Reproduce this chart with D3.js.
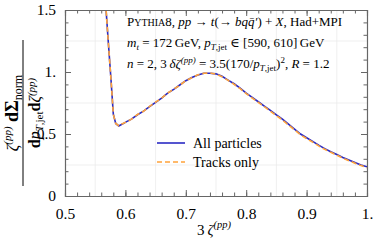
<!DOCTYPE html>
<html>
<head>
<meta charset="utf-8">
<script src="https://cdn.jsdelivr.net/npm/d3@7"></script>
<style>
  body { margin: 0; background: #fff; }
  text { font-family: "Liberation Serif", "DejaVu Serif", serif; fill: #000; }
</style>
</head>
<body>
<div id="hook-chart"></div>
<script>
'use strict';

// 3 zeta^(pp) values
var zeta = [0.563, 0.568, 0.572, 0.576, 0.580, 0.584, 0.589, 0.595, 0.602, 0.61, 0.62, 0.63, 0.64,
  0.65, 0.66, 0.67, 0.68, 0.69, 0.70, 0.71, 0.72, 0.73, 0.74, 0.75, 0.76, 0.77, 0.78, 0.79, 0.80,
  0.81, 0.82, 0.83, 0.84, 0.85, 0.86, 0.87, 0.88, 0.89, 0.90, 0.91, 0.92, 0.93, 0.94, 0.95, 0.96,
  0.97, 0.98, 0.99, 1.0];

var allParticles = [1.75, 1.50, 1.22, 0.95, 0.66, 0.585, 0.565, 0.58, 0.60, 0.62, 0.655, 0.685, 0.72,
  0.755, 0.79, 0.83, 0.86, 0.895, 0.93, 0.955, 0.975, 0.99, 0.99, 0.985, 0.965, 0.935, 0.905, 0.87, 0.83,
  0.795, 0.76, 0.725, 0.69, 0.655, 0.62, 0.58, 0.54, 0.50, 0.47, 0.44, 0.41, 0.382, 0.357, 0.335, 0.31,
  0.29, 0.27, 0.25, 0.235];

var tracksOnly = [1.75, 1.50, 1.22, 0.95, 0.66, 0.585, 0.567, 0.582, 0.598, 0.62, 0.657, 0.683, 0.722,
  0.757, 0.79, 0.83, 0.862, 0.893, 0.93, 0.953, 0.977, 0.99, 0.992, 0.982, 0.962, 0.933, 0.9, 0.866, 0.826,
  0.79, 0.755, 0.72, 0.684, 0.648, 0.613, 0.573, 0.533, 0.493, 0.463, 0.434, 0.404, 0.376, 0.352, 0.33, 0.305,
  0.285, 0.265, 0.245, 0.228];

var xTicks = [0.5, 0.6, 0.7, 0.8, 0.9, 1.0];
var xTickLabels = ['0.5', '0.6', '0.7', '0.8', '0.9', '1.'];
var yTicks = [0, 0.5, 1.0, 1.5];
var yTickLabels = ['0', '0.5', '1.', '1.5'];
var xGrid = [0.55, 0.65, 0.75, 0.85, 0.95];
var yGrid = [0.25, 0.75, 1.25];

(function() {

var W = 374, H = 242;
var mLeft = 65, mRight = 367, mTop = 10, mBottom = 196;

var svg = d3.select('#hook-chart')
  .append('svg')
  .attr('width', W)
  .attr('height', H);

var x = d3.scaleLinear().domain([0.5, 1.0]).range([mLeft, mRight]);
var y = d3.scaleLinear().domain([0, 1.5]).range([mBottom, mTop]);

// grid
svg.append('g').selectAll('line').data(xGrid).enter().append('line')
  .attr('x1', function(d) { return x(d); }).attr('x2', function(d) { return x(d); })
  .attr('y1', mTop).attr('y2', mBottom)
  .style('stroke', '#ebebeb').style('stroke-width', 0.8);
svg.append('g').selectAll('line').data(yGrid).enter().append('line')
  .attr('y1', function(d) { return y(d); }).attr('y2', function(d) { return y(d); })
  .attr('x1', mLeft).attr('x2', mRight)
  .style('stroke', '#ebebeb').style('stroke-width', 0.8);

// curves
svg.append('clipPath').attr('id', 'clip')
  .append('rect').attr('x', mLeft).attr('y', mTop).attr('width', mRight - mLeft).attr('height', mBottom - mTop);

var line = d3.line()
  .x(function(d) { return x(d[0]); })
  .y(function(d) { return y(d[1]); });

svg.append('path')
  .datum(d3.zip(zeta, allParticles))
  .attr('d', line)
  .attr('clip-path', 'url(#clip)')
  .style('fill', 'none').style('stroke', '#2b2bc4').style('stroke-width', 1.6);

svg.append('path')
  .datum(d3.zip(zeta, tracksOnly))
  .attr('d', line)
  .attr('clip-path', 'url(#clip)')
  .style('fill', 'none').style('stroke', '#ffa33a').style('stroke-width', 1.6)
  .style('stroke-dasharray', '5,3');

// axes, ticks inward on all four sides
var fmtX = function(d) { return xTickLabels[xTicks.indexOf(d)]; };
var fmtY = function(d) { return yTickLabels[yTicks.indexOf(d)]; };
var xMinor = d3.range(0.5, 1.0001, 0.02).map(function(d) { return +d.toFixed(2); });
var yMinor = d3.range(0, 1.5001, 0.1).map(function(d) { return +d.toFixed(1); });

function styleAxis(g) {
  g.selectAll('path').style('stroke', '#666').style('stroke-width', 1.1);
  g.selectAll('line').style('stroke', '#666').style('stroke-width', 1);
  g.selectAll('text').style('font-family', '"Liberation Serif", serif').style('font-size', '15.5px').style('fill', '#000');
}

svg.append('g').attr('transform', 'translate(0,' + mBottom + ')')
  .call(d3.axisBottom(x).tickValues(xMinor).tickSize(-3.5).tickFormat(''))
  .call(styleAxis);
svg.append('g').attr('transform', 'translate(0,' + mBottom + ')')
  .call(d3.axisBottom(x).tickValues(xTicks).tickSize(-6).tickPadding(12).tickFormat(fmtX))
  .call(styleAxis);
svg.append('g').attr('transform', 'translate(0,' + mTop + ')')
  .call(d3.axisTop(x).tickValues(xMinor).tickSize(-3.5).tickFormat(''))
  .call(styleAxis);
svg.append('g').attr('transform', 'translate(0,' + mTop + ')')
  .call(d3.axisTop(x).tickValues(xTicks).tickSize(-6).tickFormat(''))
  .call(styleAxis);
svg.append('g').attr('transform', 'translate(' + mLeft + ',0)')
  .call(d3.axisLeft(y).tickValues(yMinor).tickSize(-3.5).tickFormat(''))
  .call(styleAxis);
svg.append('g').attr('transform', 'translate(' + mLeft + ',0)')
  .call(d3.axisLeft(y).tickValues(yTicks).tickSize(-6).tickPadding(9).tickFormat(fmtY))
  .call(styleAxis);
svg.append('g').attr('transform', 'translate(' + mRight + ',0)')
  .call(d3.axisRight(y).tickValues(yMinor).tickSize(-3.5).tickFormat(''))
  .call(styleAxis);
svg.append('g').attr('transform', 'translate(' + mRight + ',0)')
  .call(d3.axisRight(y).tickValues(yTicks).tickSize(-6).tickFormat(''))
  .call(styleAxis);

// annotation
var ann = svg.append('g').style('font-size', '13px');
var t1 = ann.append('text').attr('x', 127).attr('y', 26);
t1.append('tspan').text('P');
t1.append('tspan').style('font-size', '10px').text('YTHIA');
t1.append('tspan').text('8, ');
t1.append('tspan').style('font-style', 'italic').text('pp');
t1.append('tspan').text(' \u2192 ');
t1.append('tspan').style('font-style', 'italic').text('t');
t1.append('tspan').text('(\u2192 ');
t1.append('tspan').style('font-style', 'italic').text('bq\u0071\u0304\u2032');
t1.append('tspan').text(') + ');
t1.append('tspan').style('font-style', 'italic').text('X');
t1.append('tspan').text(', Had+MPI');

var t2 = ann.append('text').attr('x', 127).attr('y', 47);
t2.append('tspan').style('font-style', 'italic').text('m');
t2.append('tspan').style('font-style', 'italic').style('font-size', '9px').attr('dy', 3).text('t');
t2.append('tspan').attr('dy', -3).text(' = 172\u2009GeV, ');
t2.append('tspan').style('font-style', 'italic').text('p');
t2.append('tspan').style('font-size', '9px').attr('dy', 3).html('<tspan style="font-style:italic">T</tspan>,jet');
t2.append('tspan').attr('dy', -3).text(' \u2208 [590, 610]\u2009GeV');

var t3 = ann.append('text').attr('x', 127).attr('y', 68);
t3.append('tspan').style('font-style', 'italic').text('n');
t3.append('tspan').text(' = 2, 3\u2009');
t3.append('tspan').style('font-style', 'italic').text('\u03b4\u03b6');
t3.append('tspan').style('font-style', 'italic').style('font-size', '9px').attr('dy', -5).text('(pp)');
t3.append('tspan').attr('dy', 5).text(' = 3.5(170/');
t3.append('tspan').style('font-style', 'italic').text('p');
t3.append('tspan').style('font-size', '9px').attr('dy', 3).html('<tspan style="font-style:italic">T</tspan>,jet');
t3.append('tspan').attr('dy', -3).text(')');
t3.append('tspan').style('font-size', '9px').attr('dy', -5).text('2');
t3.append('tspan').attr('dy', 5).text(', ');
t3.append('tspan').style('font-style', 'italic').text('R');
t3.append('tspan').text(' = 1.2');

// legend
var legend = [
  { label: 'All particles', color: '#2b2bc4', dash: null },
  { label: 'Tracks only', color: '#ffa33a', dash: '5,3' }
];
var lg = svg.append('g').selectAll('g').data(legend).enter().append('g')
  .attr('transform', function(d, i) { return 'translate(157,' + (143 + i * 19) + ')'; });
lg.append('line').attr('x1', 0).attr('x2', 28).attr('y1', 0).attr('y2', 0)
  .style('stroke', function(d) { return d.color; })
  .style('stroke-width', 1.6)
  .style('stroke-dasharray', function(d) { return d.dash; });
lg.append('text').attr('x', 36).attr('y', 5).style('font-size', '14px')
  .text(function(d) { return d.label; });

// x label
var xl = svg.append('text').attr('x', 197).attr('y', 235).style('font-size', '15px');
xl.append('tspan').text('3\u2009');
xl.append('tspan').style('font-style', 'italic').text('\u03b6');
xl.append('tspan').style('font-style', 'italic').style('font-size', '10.5px').attr('dy', -7).text('(pp)');

// y label, a rotated fraction
var yl = svg.append('g').attr('transform', 'translate(23,113) rotate(-90)');
yl.append('line').attr('x1', -73).attr('x2', 73).attr('y1', 0).attr('y2', 0)
  .style('stroke', '#000').style('stroke-width', 1);
var num = yl.append('text').attr('x', 0).attr('y', -5).attr('text-anchor', 'middle').style('font-size', '16px');
num.append('tspan').style('font-style', 'italic').text('\u03b6');
num.append('tspan').style('font-style', 'italic').style('font-size', '11px').attr('dy', -7).text('(pp)');
num.append('tspan').attr('dy', 7).style('font-weight', 'bold').style('font-size', '18px').text(' d\u03a3');
num.append('tspan').attr('dy', 4).style('font-size', '12px').text('norm');
var den = yl.append('text').attr('x', 0).attr('y', 17).attr('text-anchor', 'middle').style('font-size', '16px');
den.append('tspan').style('font-weight', 'bold').text('d');
den.append('tspan').style('font-style', 'italic').text('p');
den.append('tspan').style('font-size', '11px').attr('dy', 3).html('<tspan style="font-style:italic">T</tspan>,jet');
den.append('tspan').attr('dy', -3).style('font-weight', 'bold').text('d');
den.append('tspan').style('font-style', 'italic').text('\u03b6');
den.append('tspan').style('font-style', 'italic').style('font-size', '11px').attr('dy', -5).text('(pp)');

}());
</script>
</body>
</html>
